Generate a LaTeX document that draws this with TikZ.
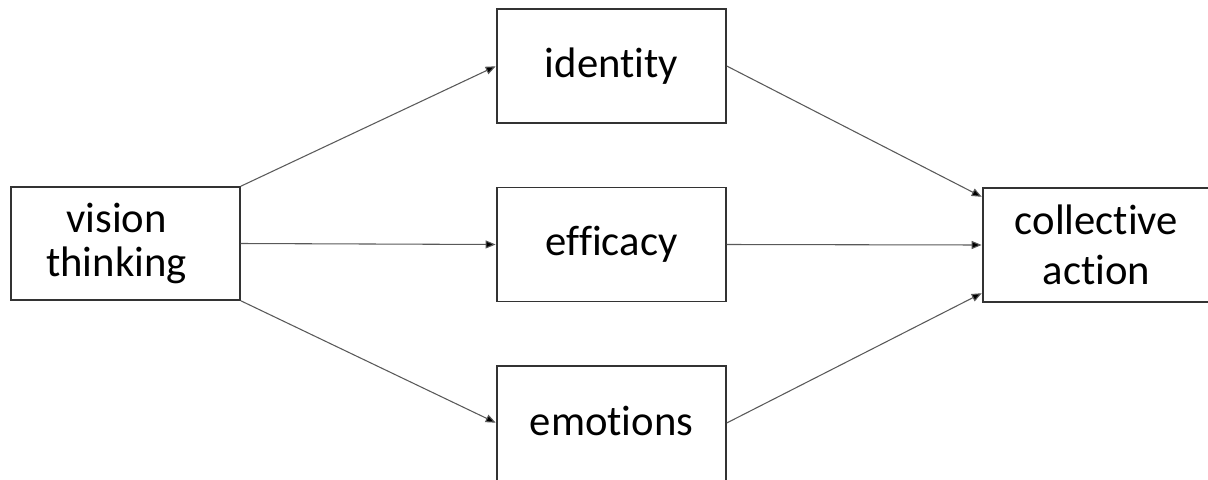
\documentclass[tikz,border=0pt]{standalone}
\usepackage{fontspec}
\setmainfont[Ligatures={NoCommon}]{Carlito}
\usetikzlibrary{arrows.meta}
\begin{document}
\begin{tikzpicture}[x=0.75pt,y=-0.75pt,
  box/.style={draw=black!80, line width=1.1pt, fill=white, rectangle,
    minimum width=171.75pt, minimum height=85.5pt, inner sep=0pt,
    align=center, font=\fontsize{32}{32.5}\selectfont},
  link/.style={draw=black!65, line width=0.8pt,
    -{Triangle[length=7.5pt,width=6pt,fill=black]}, shorten >=0.5pt}]
  \useasboundingbox (0,0) rectangle (1208,479);

  % source, mediators and outcome
  \node[box, minimum height=84.75pt] (vision) at (125.5,243.5)
    {\hspace*{-13.5pt}vision\\\hspace*{-13.5pt}thinking};
  \node[box] (identity) at (611.5,66) {identity};
  \node[box] (efficacy) at (611.5,244.5) {efficacy};
  \node[box, minimum height=91.5pt, text height=20pt, text depth=8pt]
    (emotions) at (611.5,427) {emotions};
  \node[box, minimum width=220pt, font=\fontsize{32}{37.5}\selectfont]
    (collective) at (1129.7,245)
    {\hspace*{-49.8pt}collective\\\hspace*{-49.8pt}action};

  % paths from vision thinking to the mediators
  \draw[link] (vision.north east) -- (identity.west);
  \draw[link] (vision.east) -- (efficacy.west);
  \draw[link] (vision.south east) -- (emotions.178);

  % paths from the mediators to collective action
  \draw[link] (identity.east) -- (collective.162);
  \draw[link] (efficacy.east) -- (collective.west);
  \draw[link] (emotions.2) -- (collective.198);
\end{tikzpicture}
\end{document}
